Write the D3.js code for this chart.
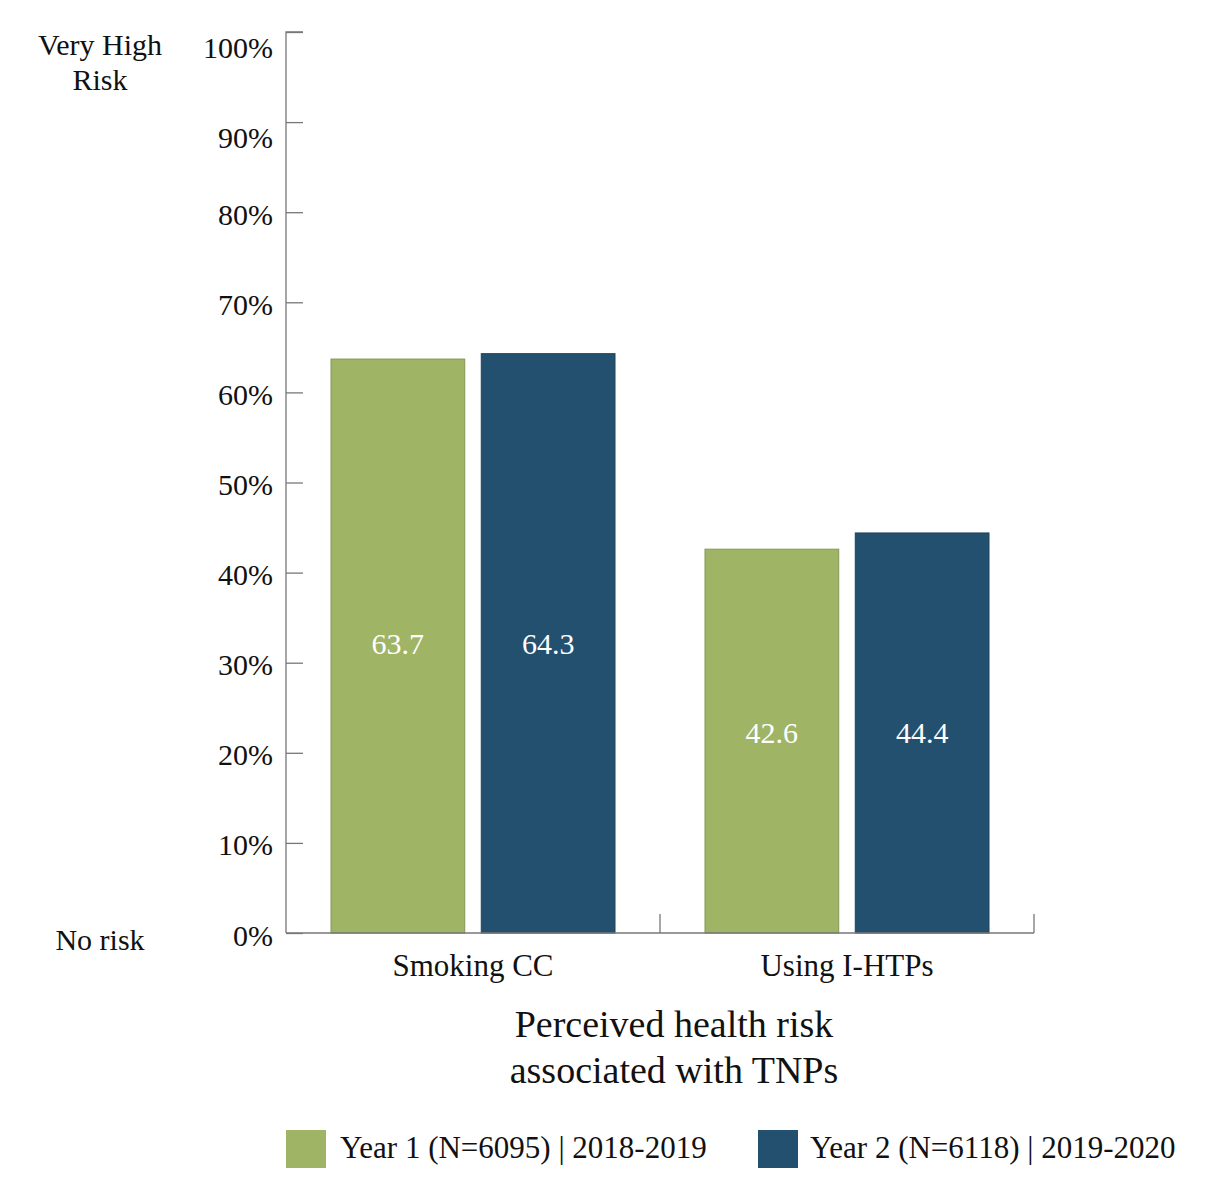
<!DOCTYPE html>
<html>
<head>
<meta charset="utf-8">
<script src="https://cdn.jsdelivr.net/npm/d3@7"></script>
<style>
  body { margin: 0; background: #fff; }
  svg text { font-family: "Liberation Serif", "Times New Roman", serif; fill: #111; }
</style>
</head>
<body>
<div id="chart"></div>
<script>
const categories = ["Smoking CC", "Using I-HTPs"];
const seriesNames = ["Year 1 (N=6095) | 2018-2019", "Year 2 (N=6118) | 2019-2020"];
const year1Values = [63.7, 42.6];
const year2Values = [64.3, 44.4];
const yTicks = [0, 10, 20, 30, 40, 50, 60, 70, 80, 90, 100];
const colors = ["#9fb465", "#24506f"];

const width = 1214, height = 1196;
const margins = { top: 32, right: 180, bottom: 263, left: 286 };
const innerWidth = 1034 - margins.left;
const innerHeight = height - margins.top - margins.bottom;

const svg = d3.select("#chart").append("svg")
  .attr("width", width)
  .attr("height", height);

const mainG = svg.append("g")
  .attr("transform", `translate(${margins.left},${margins.top})`);

const x0 = d3.scaleBand().domain(categories).range([0, innerWidth]).paddingInner(0).paddingOuter(0);
const x1 = d3.scaleBand().domain([0, 1]).range([45, x0.bandwidth() - 45]).paddingInner(0.11);
const y = d3.scaleLinear().domain([0, 100]).range([innerHeight, 0]);

const rows = categories.map((c, i) => ({ cat: c, vals: [year1Values[i], year2Values[i]] }));

// Bars
const groups = mainG.selectAll("g.grp")
  .data(rows)
  .join("g")
  .attr("class", "grp")
  .attr("transform", (d) => `translate(${x0(d.cat)},0)`);

groups.selectAll("rect")
  .data((d) => d.vals.map((v, k) => ({ v, k })))
  .join("rect")
  .attr("x", (d) => x1(d.k))
  .attr("width", x1.bandwidth())
  .attr("y", (d) => y(d.v))
  .attr("height", (d) => innerHeight - y(d.v))
  .attr("fill", (d) => colors[d.k])
  .attr("stroke", (d) => d3.color(colors[d.k]).darker(0.5))
  .attr("stroke-width", 1);

// value labels sit at the same height inside a group (half of the taller bar)
groups.selectAll("text.val")
  .data((d) => d.vals.map((v, k) => ({ v, k, top: d3.max(d.vals) })))
  .join("text")
  .attr("class", "val")
  .attr("x", (d) => x1(d.k) + x1.bandwidth() / 2)
  .attr("y", (d) => y(d.top / 2))
  .attr("dy", "0.35em")
  .attr("text-anchor", "middle")
  .attr("font-size", "30px")
  .style("fill", "#fff")
  .text((d) => d.v.toFixed(1));

// Y axis
const yAxisG = mainG.append("g")
  .call(d3.axisRight(y).tickValues(yTicks).tickSize(17).tickFormat(""));
yAxisG.select(".domain").attr("d", `M17,0H0V${innerHeight}`);
yAxisG.selectAll("line, path").attr("stroke", "#777").attr("stroke-width", 1.3);

mainG.selectAll("text.ytick")
  .data(yTicks)
  .join("text")
  .attr("class", "ytick")
  .attr("x", -13)
  .attr("y", (d) => y(d) + (d >= 90 ? 15 : 2))
  .attr("dy", "0.35em")
  .attr("text-anchor", "end")
  .attr("font-size", "30px")
  .text((d) => d + "%");

// X axis
const xAxisG = mainG.append("g")
  .attr("transform", `translate(0,${innerHeight})`)
  .call(d3.axisBottom(x0).tickSize(0).tickFormat(""));
xAxisG.select(".domain").attr("d", `M0,0H${innerWidth}`).attr("stroke", "#777").attr("stroke-width", 1.3);

mainG.selectAll("line.sep")
  .data(categories)
  .join("line")
  .attr("class", "sep")
  .attr("x1", (d) => x0(d) + x0.bandwidth())
  .attr("x2", (d) => x0(d) + x0.bandwidth())
  .attr("y1", innerHeight - 19)
  .attr("y2", innerHeight)
  .attr("stroke", "#777")
  .attr("stroke-width", 1.3);

mainG.selectAll("text.xlab")
  .data(categories)
  .join("text")
  .attr("class", "xlab")
  .attr("x", (d) => x0(d) + x0.bandwidth() / 2)
  .attr("y", innerHeight + 32)
  .attr("dy", "0.35em")
  .attr("text-anchor", "middle")
  .attr("font-size", "31px")
  .text((d) => d);

// Axis title
const title = mainG.append("text")
  .attr("x", innerWidth / 2 + 14)
  .attr("y", innerHeight + 91)
  .attr("dy", "0.35em")
  .attr("text-anchor", "middle")
  .attr("font-size", "38px");
title.append("tspan").text("Perceived health risk");
title.append("tspan").attr("x", innerWidth / 2 + 14).attr("dy", "1.2em").text("associated with TNPs");

// Risk labels
const riskTop = svg.append("text")
  .attr("x", 100)
  .attr("y", 44)
  .attr("dy", "0.35em")
  .attr("text-anchor", "middle")
  .attr("font-size", "30px");
riskTop.append("tspan").text("Very High");
riskTop.append("tspan").attr("x", 100).attr("dy", "1.17em").text("Risk");

svg.append("text")
  .attr("x", 100)
  .attr("y", 939)
  .attr("dy", "0.35em")
  .attr("text-anchor", "middle")
  .attr("font-size", "30px")
  .text("No risk");

// Legend
const legendX = [286, 758];
const legend = svg.selectAll("g.leg")
  .data(seriesNames)
  .join("g")
  .attr("class", "leg")
  .attr("transform", (d, i) => `translate(${legendX[i]},1130)`);

legend.append("rect")
  .attr("width", 40)
  .attr("height", 38)
  .attr("fill", (d, i) => colors[i]);

legend.append("text")
  .attr("x", (d, i) => (i === 0 ? 54 : 52))
  .attr("y", 17)
  .attr("dy", "0.35em")
  .attr("font-size", "31px")
  .text((d) => d);
</script>
</body>
</html>
